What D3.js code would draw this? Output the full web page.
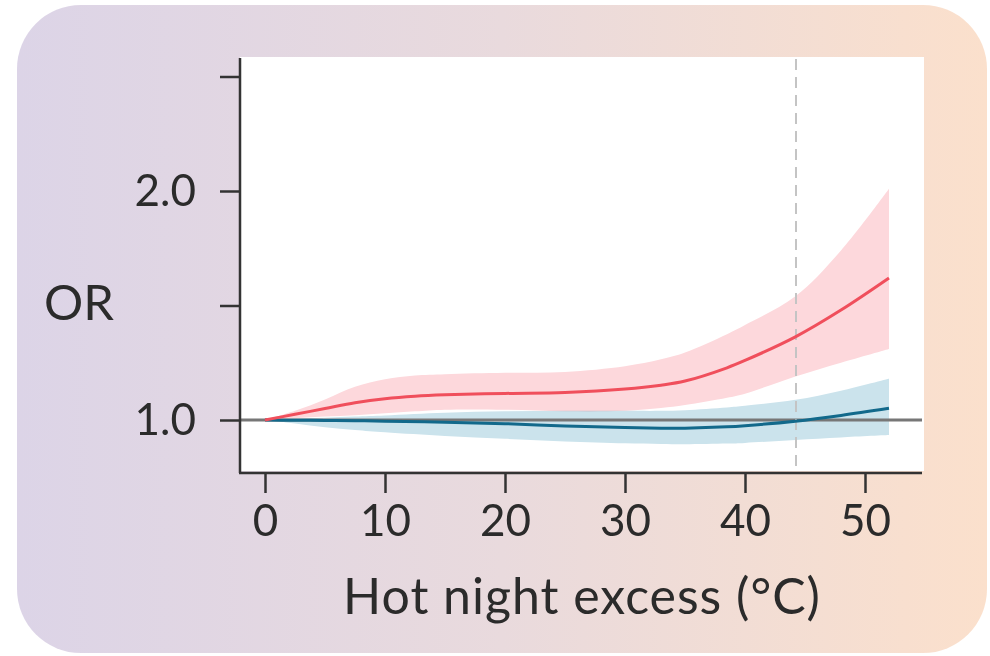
<!DOCTYPE html>
<html><head><meta charset="utf-8">
<script src="https://cdn.jsdelivr.net/npm/d3@7"></script>
<style>html,body{margin:0;padding:0;background:#fff;}svg{display:block;}</style>
</head><body>
<svg id="chart" width="990" height="656"></svg>
<script>
// ---- data ----
const xTicks = [0, 10, 20, 30, 40, 50];
const yTicks = [1.0, 1.5, 2.0, 2.5];
const yTickLabels = ["1.0", "", "2.0", ""];
const thresholdX = 44.25;

const redX     = [0, 2.5, 5, 7.5, 10, 12.5, 15, 20, 25, 30, 33, 35, 38.5, 40, 44.2, 48, 52];
const redOR    = [1.0, 1.025, 1.05, 1.075, 1.093, 1.104, 1.11, 1.116, 1.12, 1.135, 1.152, 1.17, 1.228, 1.26, 1.363, 1.48, 1.62];
const redUpper = [1.0, 1.04, 1.09, 1.145, 1.178, 1.194, 1.2, 1.206, 1.21, 1.235, 1.265, 1.295, 1.375, 1.415, 1.54, 1.74, 2.01];
const redLower = [1.0, 1.008, 1.015, 1.021, 1.03, 1.038, 1.045, 1.045, 1.038, 1.04, 1.052, 1.065, 1.097, 1.115, 1.19, 1.25, 1.31];

const blueX     = [0, 2.5, 5, 7.5, 10, 15, 20, 25, 30, 33, 35, 38.5, 40, 44.2, 48, 52];
const blueOR    = [1.0, 0.999, 0.998, 0.997, 0.995, 0.99, 0.984, 0.974, 0.967, 0.964, 0.964, 0.97, 0.975, 0.995, 1.02, 1.051];
const blueUpper = [1.0, 1.005, 1.01, 1.015, 1.02, 1.032, 1.038, 1.04, 1.04, 1.04, 1.043, 1.055, 1.062, 1.088, 1.128, 1.18];
const blueLower = [1.0, 0.985, 0.968, 0.956, 0.946, 0.93, 0.918, 0.906, 0.898, 0.895, 0.894, 0.897, 0.9, 0.913, 0.924, 0.934];

const xLabel = "Hot night excess (°C)";
const yLabel = "OR";

// ---- drawing ----
const svg = d3.select("#chart");
const defs = svg.append("defs");
const grad = defs.append("linearGradient").attr("id","bg").attr("x1","0%").attr("x2","100%").attr("y1","0%").attr("y2","0%");
grad.append("stop").attr("offset","0%").attr("stop-color","#dcd4e7");
grad.append("stop").attr("offset","50%").attr("stop-color","#e9dadd");
grad.append("stop").attr("offset","100%").attr("stop-color","#fbe0cc");

svg.append("rect").attr("x",17).attr("y",5).attr("width",970).attr("height",648)
  .attr("rx",64).attr("ry",64).attr("fill","url(#bg)");

const pL = 240, pR = 924, pT = 57, pB = 471;
svg.append("rect").attr("x",pL).attr("y",pT).attr("width",pR-pL).attr("height",pB-pT).attr("fill","#fff");

const x = d3.scaleLinear().domain([0, 50]).range([265, 865]);
const y = d3.scaleLinear().domain([1.0, 2.0]).range([420, 191]);

const plot = svg.append("g");
const curve = d3.curveCatmullRom.alpha(0.5);

function band(xs, lo, hi) {
  return d3.area().x((d,i)=>x(xs[i])).y0((d,i)=>y(lo[i])).y1((d,i)=>y(hi[i])).curve(curve)(xs);
}
function line(xs, v) {
  return d3.line().x((d,i)=>x(xs[i])).y((d,i)=>y(v[i])).curve(curve)(xs);
}

plot.append("path").attr("d", band(redX, redLower, redUpper)).attr("fill","#fdd8dc");
plot.append("path").attr("d", band(blueX, blueLower, blueUpper)).attr("fill","#cbe3ec").style("mix-blend-mode","multiply");

// reference line
plot.append("line").attr("x1",pL).attr("x2",922).attr("y1",y(1)).attr("y2",y(1))
  .attr("stroke","#777").attr("stroke-width",3);

// threshold dashed line
plot.append("line").attr("x1",x(thresholdX)).attr("x2",x(thresholdX)).attr("y1",pT+2).attr("y2",pB)
  .attr("stroke","#c4c4c4").attr("stroke-width",2).attr("stroke-dasharray","11,7");

plot.append("path").attr("d", line(blueX, blueOR)).attr("fill","none").attr("stroke","#12698b").attr("stroke-width",3);
plot.append("path").attr("d", line(redX, redOR)).attr("fill","none").attr("stroke","#f04f5c").attr("stroke-width",3);

// axes
const font = "Lato, 'Open Sans', sans-serif";
const axisColor = "#333";
const yAxis = d3.axisLeft(y).tickValues(yTicks).tickSize(20).tickPadding(24)
  .tickFormat((d,i)=>yTickLabels[i]);
const ga = svg.append("g").attr("transform",`translate(${pL},0)`).call(yAxis);
ga.select(".domain").attr("d", `M0,${pT+1}V${pB+2}`);
const xAxis = d3.axisBottom(x).tickValues(xTicks).tickSize(20).tickPadding(12).tickFormat(d3.format("d"));
const gx = svg.append("g").attr("transform",`translate(0,${pB+2})`).call(xAxis);
gx.select(".domain").attr("d", `M${pL-1},0H922`);

[ga, gx].forEach(g=>{
  g.selectAll(".domain").attr("stroke",axisColor).attr("stroke-width",2.5);
  g.selectAll(".tick line").attr("stroke",axisColor).attr("stroke-width",2.5);
  g.selectAll(".tick text").attr("fill","#2b2b2b").style("font-family",font).style("font-size","44px");
});

svg.append("text").attr("x",79).attr("y",320).attr("text-anchor","middle")
  .style("font-family",font).style("font-size","49px").attr("fill","#2b2b2b").text(yLabel);
svg.append("text").attr("x",582).attr("y",614).attr("text-anchor","middle")
  .style("font-family",font).style("font-size","50px").style("letter-spacing","1px").attr("fill","#2b2b2b").text(xLabel);
</script>
</body></html>
